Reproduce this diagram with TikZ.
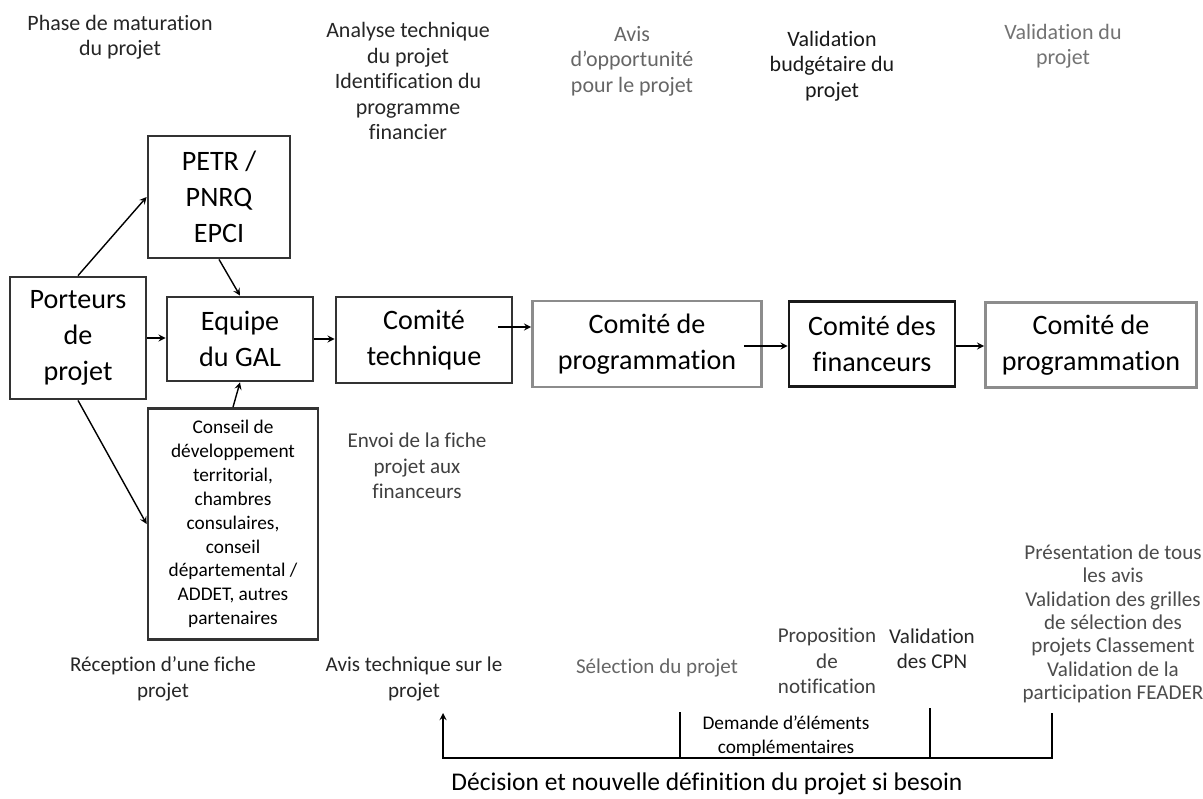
\documentclass[tikz,border=0pt]{standalone}
\usepackage{fontspec}
\setmainfont{Carlito}[Ligatures=NoCommon]
\usetikzlibrary{calc}

\begin{document}
\begin{tikzpicture}[x=0.02cm,y=-0.02cm,>=stealth,thick]
\tikzstyle{block}=[rectangle,draw=black!80,line width=1.6pt,align=center,inner sep=0pt,font=\fontsize{16}{20.5}\selectfont]
\tikzstyle{greyblock}=[block,draw=black!45]
\tikzstyle{phase}=[align=center,font=\fontsize{12.5}{14.5}\selectfont]
\tikzstyle{note}=[align=center,font=\fontsize{12}{14.4}\selectfont]
\tikzstyle{link}=[->,line width=0.8pt]
\useasboundingbox (0,0) rectangle (1203,798);

% phases
\node[phase,text=black!85] (hmatur) at (120,37) {Phase de maturation\\du projet};
\node[phase,text=black!85] (hanalyse) at (408,81) {Analyse technique\\du projet\\Identification du\\programme\\financier};
\node[phase,text=black!60] (havis) at (632,61) {Avis\\d'opportunité\\pour le projet};
\node[phase,text=black!90] (hbudget) at (832,66) {Validation\\budgétaire du\\projet};
\node[phase,text=black!55] (hvalid) at (1063,46) {Validation du\\projet};

% boxes
\node[block,minimum width=2.72cm,minimum height=2.44cm] (porteurs) at (78,338) {Porteurs\\de\\projet};
\node[block,minimum width=2.84cm,minimum height=2.44cm] (petr) at (219,197) {PETR /\\PNRQ\\EPCI};
\node[block,minimum width=2.92cm,minimum height=1.68cm] (equipe) at (240,339) {Equipe\\du GAL};
\node[block,minimum width=3.4cm,minimum height=4.62cm,font=\fontsize{11}{13.6}\selectfont] (conseil) at (233,524) {Conseil de\\développement\\territorial,\\chambres\\consulaires,\\conseil\\départemental /\\ADDET, autres\\partenaires};
\node[block,minimum width=3.52cm,minimum height=1.72cm] (ctech) at (424,340) {Comité\\technique};
\node[greyblock,minimum width=4.58cm,minimum height=1.72cm] (cprog) at (647,344) {Comité de\\programmation};
\node[block,draw=black!90,minimum width=3.32cm,minimum height=1.7cm] (cfin) at (872,344) {Comité des\\financeurs};
\node[greyblock,minimum width=4.22cm,minimum height=1.7cm] (cprogb) at (1091,345) {Comité de\\programmation};

% notes
\node[note,text=black!75] (envoi) at (417,466) {Envoi de la fiche\\projet aux\\financeurs};
\node[note,text=black!85] (recept) at (163,679) {Réception d’une fiche\\projet};
\node[note,text=black!85] (avistech) at (414,679) {Avis technique sur le\\projet};
\node[note,text=black!60] (select) at (657,668) {Sélection du projet};
\node[note,text=black!75] (propos) at (827,661) {Proposition\\de\\notification};
\node[note,text=black!85] (valcpn) at (932,649) {Validation\\des CPN};
\node[note,text=black!70,font=\fontsize{12}{13.3}\selectfont] (present) at (1113,624) {Présentation de tous\\les avis\\Validation des grilles\\de sélection des\\projets Classement\\Validation de la\\participation FEADER};
\node[note,font=\fontsize{11}{13.6}\selectfont] (demande) at (786,736) {Demande d’éléments\\complémentaires};
\node[note,font=\fontsize{14.5}{17}\selectfont] (decision) at (707,784) {Décision et nouvelle définition du projet si besoin};

% flow
\draw[link] (porteurs.north) -- (petr.west);
\draw[link] (porteurs.south) -- (conseil.west);
\draw[link] (porteurs.east) -- (porteurs.east -| equipe.west);
\draw[link] (petr.south) -- (equipe.north);
\draw[link] (conseil.north) -- (equipe.south);
\draw[link] (equipe.east) -- (equipe.east -| ctech.west);
\draw[link] ($(ctech.east)+(-15,-13)$) coordinate (a1) -- (a1 -| cprog.west);
\draw[link] ($(cprog.east)+(-19,2)$) coordinate (a2) -- (a2 -| cfin.west);
\draw[link] ($(cfin.east)+(0,2)$) coordinate (a3) -- (a3 -| cprogb.west);

% retour
\coordinate (tipA) at (443,713);
\coordinate (baseA) at (443,758);
\coordinate (topB) at (680,712);
\coordinate (topC) at (930,708);
\coordinate (topD) at (1052,713);
\draw[link] (topD) -- (topD |- baseA) -- (baseA) -- (tipA);
\draw[line width=0.8pt] (topB) -- (topB |- baseA);
\draw[line width=0.8pt] (topC) -- (topC |- baseA);
\end{tikzpicture}
\end{document}
